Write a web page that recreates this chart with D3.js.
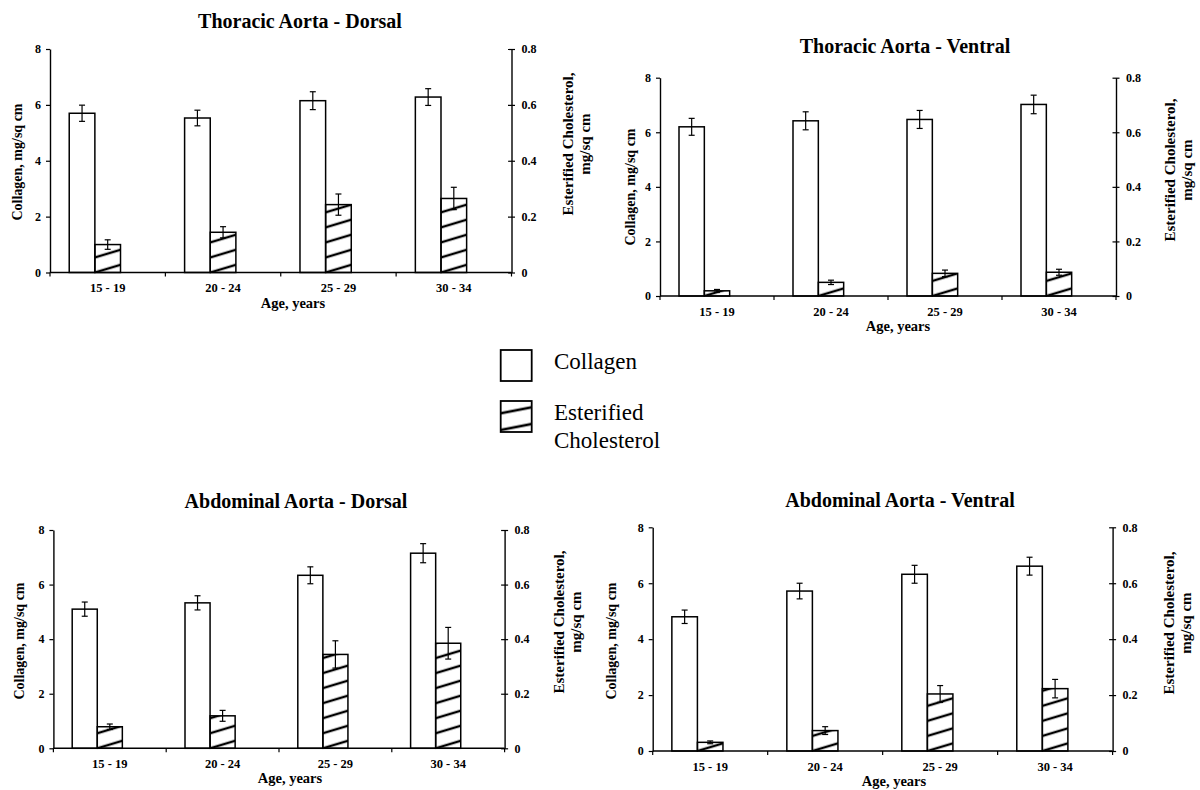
<!DOCTYPE html>
<html>
<head>
<meta charset="utf-8">
<script src="https://cdn.jsdelivr.net/npm/d3@7"></script>
<style>
  body { margin: 0; background: #fff; }
  svg { font-family: "Liberation Serif", "Times New Roman", serif; }
</style>
</head>
<body>
<svg width="1200" height="790"></svg>
<script>
// data
var ageGroups = ["15 - 19", "20 - 24", "25 - 29", "30 - 34"];
var panelTitles = ["Thoracic Aorta - Dorsal", "Thoracic Aorta - Ventral",
                   "Abdominal Aorta - Dorsal", "Abdominal Aorta - Ventral"];
var seriesNames = ["Collagen", "Esterified Cholesterol"];

var collagenTD = [5.70, 5.53, 6.15, 6.28], collagenErrTD = [0.29, 0.28, 0.32, 0.30];
var cholTD     = [0.100, 0.144, 0.243, 0.265], cholErrTD = [0.017, 0.020, 0.038, 0.040];
var collagenTV = [6.20, 6.42, 6.47, 7.02], collagenErrTV = [0.31, 0.33, 0.33, 0.34];
var cholTV     = [0.019, 0.050, 0.083, 0.087], cholErrTV = [0.005, 0.008, 0.012, 0.011];
var collagenAD = [5.10, 5.33, 6.34, 7.15], collagenErrAD = [0.26, 0.26, 0.31, 0.35];
var cholAD     = [0.079, 0.119, 0.344, 0.385], cholErrAD = [0.010, 0.020, 0.050, 0.058];
var collagenAV = [4.80, 5.72, 6.32, 6.61], collagenErrAV = [0.24, 0.28, 0.32, 0.32];
var cholAV     = [0.031, 0.073, 0.204, 0.223], cholErrAV = [0.005, 0.014, 0.030, 0.033];

var collagenTicks = [0, 2, 4, 6, 8];
var cholTicks = [0, 0.2, 0.4, 0.6, 0.8];

var collagen = [collagenTD, collagenTV, collagenAD, collagenAV],
    collagenErr = [collagenErrTD, collagenErrTV, collagenErrAD, collagenErrAV],
    chol = [cholTD, cholTV, cholAD, cholAV],
    cholErr = [cholErrTD, cholErrTV, cholErrAD, cholErrAV];

// where each panel sits on the page
var layout = [
  {x0: 50,    x1: 511.5,  y0: 272.5, y8: 49,    titleX: 300, titleY: 28,  xlabX: 293, ylabX: 22,    ylabY: 162, rlabX: 573,  rlabY: 144},
  {x0: 660,   x1: 1116,   y0: 296,   y8: 77.7,  titleX: 905, titleY: 53,  xlabX: 898, ylabX: 634.5, ylabY: 187, rlabX: 1175, rlabY: 170},
  {x0: 53.4,  x1: 504.6,  y0: 748.3, y8: 530,   titleX: 296, titleY: 508, xlabX: 290, ylabX: 23.5,  ylabY: 641, rlabX: 564,  rlabY: 622},
  {x0: 652.7, x1: 1112.6, y0: 751,   y8: 527.3, titleX: 900, titleY: 507, xlabX: 894, ylabX: 616,   ylabY: 641, rlabX: 1174, rlabY: 623}
];

var svg = d3.select("svg");
var defs = svg.append("defs");
var hatchAngle = -16.7, hatchGap = 14.4;

// one hatch pattern per bar so the stripes start at the bar's corner
function makeHatch(id, x, y, angle, gap, thick) {
  var pat = defs.append("pattern")
      .attr("id", id)
      .attr("patternUnits", "userSpaceOnUse")
      .attr("width", 10)
      .attr("height", gap)
      .attr("patternTransform", "translate(" + x + "," + y + ") rotate(" + angle + ")");
  pat.append("rect").attr("x", 0).attr("y", 0).attr("width", 10).attr("height", thick / 2).attr("fill", "#000");
  pat.append("rect").attr("x", 0).attr("y", gap - thick / 2).attr("width", 10).attr("height", thick / 2).attr("fill", "#000");
}

function drawPanel(p) {
  var L = layout[p];
  var g = svg.append("g").attr("class", "panel");

  var x0 = d3.scaleBand().domain(ageGroups).range([L.x0, L.x1]);
  // third empty slot reproduces the spreadsheet's left-shifted bar pairs
  var x1 = d3.scaleBand().domain(seriesNames.concat([""])).range([0, x0.bandwidth()]).paddingOuter(0.75);
  var yL = d3.scaleLinear().domain([0, 8]).range([L.y0, L.y8]);
  var yR = d3.scaleLinear().domain([0, 0.8]).range([L.y0, L.y8]);

  // title
  g.append("text")
      .attr("x", L.titleX).attr("y", L.titleY)
      .attr("text-anchor", "middle")
      .attr("font-size", 20).attr("font-weight", "bold")
      .text(panelTitles[p]);

  // bars
  ageGroups.forEach(function(cat, i) {
    var bx = x0(cat) + x1(seriesNames[0]);
    g.append("rect")
        .attr("x", bx).attr("y", yL(collagen[p][i]))
        .attr("width", x1.bandwidth()).attr("height", yL(0) - yL(collagen[p][i]))
        .attr("fill", "#fff").attr("stroke", "#000").attr("stroke-width", 1.5);

    var cx = x0(cat) + x1(seriesNames[1]);
    var id = "hatch-" + p + "-" + i;
    makeHatch(id, cx, yR(0), hatchAngle, hatchGap, 2.4);
    g.append("rect")
        .attr("x", cx).attr("y", yR(chol[p][i]))
        .attr("width", x1.bandwidth()).attr("height", yR(0) - yR(chol[p][i]))
        .attr("fill", "url(#" + id + ")").attr("stroke", "#000").attr("stroke-width", 1.5);
  });

  // error bars
  function errBar(xc, top, bottom) {
    g.append("line").attr("x1", xc).attr("x2", xc).attr("y1", top).attr("y2", bottom)
        .attr("stroke", "#000").attr("stroke-width", 1.2);
    [top, bottom].forEach(function(yy) {
      g.append("line").attr("x1", xc - 3).attr("x2", xc + 3).attr("y1", yy).attr("y2", yy)
          .attr("stroke", "#000").attr("stroke-width", 1.2);
    });
  }
  ageGroups.forEach(function(cat, i) {
    var w = x1.bandwidth();
    errBar(x0(cat) + x1(seriesNames[0]) + w / 2,
           yL(collagen[p][i] + collagenErr[p][i]), yL(collagen[p][i] - collagenErr[p][i]));
    errBar(x0(cat) + x1(seriesNames[1]) + w / 2,
           yR(chol[p][i] + cholErr[p][i]), yR(chol[p][i] - cholErr[p][i]));
  });

  // x axis: baseline, ticks at group boundaries, labels at centres
  g.append("line")
      .attr("x1", L.x0).attr("x2", L.x1).attr("y1", L.y0).attr("y2", L.y0)
      .attr("stroke", "#000").attr("stroke-width", 1.4);
  ageGroups.concat(["end"]).forEach(function(cat, i) {
    var xx = i < ageGroups.length ? x0(cat) : x0(ageGroups[i - 1]) + x0.step();
    g.append("line")
        .attr("x1", xx).attr("x2", xx).attr("y1", L.y0).attr("y2", L.y0 + 4)
        .attr("stroke", "#000").attr("stroke-width", 1.2);
  });
  var xAxis = g.append("g")
      .attr("transform", "translate(0," + L.y0 + ")")
      .call(d3.axisBottom(x0).tickSize(0).tickPadding(11));
  xAxis.select(".domain").remove();
  xAxis.selectAll("text")
      .attr("font-family", "Liberation Serif").attr("font-size", 12.5)
      .attr("font-weight", "bold").attr("fill", "#000");

  g.append("text")
      .attr("x", L.xlabX).attr("y", L.y0 + 35)
      .attr("text-anchor", "middle")
      .attr("font-size", 14.5).attr("font-weight", "bold")
      .text("Age, years");

  // left axis
  var leftAxis = g.append("g")
      .attr("transform", "translate(" + L.x0 + ",0)")
      .call(d3.axisLeft(yL).tickValues(collagenTicks).tickSize(4).tickPadding(5).tickSizeOuter(0).tickFormat(d3.format("d")));
  // right axis
  var rightAxis = g.append("g")
      .attr("transform", "translate(" + L.x1 + ",0)")
      .call(d3.axisRight(yR).tickValues(cholTicks).tickSize(3.5).tickPadding(6.5).tickSizeOuter(0)
            .tickFormat(function(d) { return d === 0 ? "0" : d3.format(".1f")(d); }));
  rightAxis.selectAll(".tick line").attr("x1", -3.5);

  [leftAxis, rightAxis].forEach(function(ax) {
    ax.select(".domain").attr("stroke", "#000").attr("stroke-width", 1.4);
    ax.selectAll(".tick line").attr("stroke", "#000").attr("stroke-width", 1.2);
    ax.selectAll("text")
        .attr("font-family", "Liberation Serif").attr("font-size", 12)
        .attr("font-weight", "bold").attr("fill", "#000");
  });

  // axis titles
  g.append("text")
      .attr("transform", "translate(" + L.ylabX + "," + L.ylabY + ") rotate(-90)")
      .attr("text-anchor", "middle")
      .attr("font-size", 14).attr("font-weight", "bold")
      .text("Collagen, mg/sq cm");
  var rl = g.append("text")
      .attr("transform", "translate(" + L.rlabX + "," + L.rlabY + ") rotate(-90)")
      .attr("text-anchor", "middle")
      .attr("font-size", 15).attr("font-weight", "bold");
  rl.append("tspan").attr("x", 0).attr("y", 0).text("Esterified Cholesterol,");
  rl.append("tspan").attr("x", 0).attr("y", 17).text("mg/sq cm");
}

for (var p = 0; p < panelTitles.length; p++) drawPanel(p);

// legend in the middle
var legend = svg.append("g").attr("class", "legend");
legend.append("rect")
    .attr("x", 500.7).attr("y", 350).attr("width", 31).attr("height", 31)
    .attr("fill", "#fff").attr("stroke", "#000").attr("stroke-width", 1.8);
legend.append("text")
    .attr("x", 554).attr("y", 369.3).attr("font-size", 23)
    .text(seriesNames[0]);

makeHatch("hatch-legend", 500.7, 430, -11, 16.4, 2.6);
legend.append("rect")
    .attr("x", 500.7).attr("y", 401).attr("width", 31).attr("height", 31)
    .attr("fill", "url(#hatch-legend)").attr("stroke", "#000").attr("stroke-width", 1.8);
var lt = legend.append("text").attr("font-size", 23);
lt.append("tspan").attr("x", 554).attr("y", 420).text("Esterified");
lt.append("tspan").attr("x", 554).attr("y", 448.3).text("Cholesterol");
</script>
</body>
</html>
